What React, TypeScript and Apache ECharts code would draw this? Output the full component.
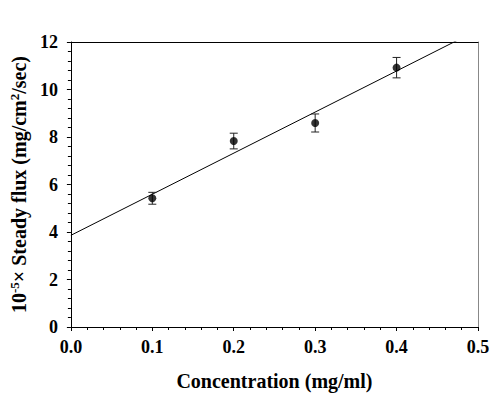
import React, { useEffect, useRef } from "react";
import * as echarts from "echarts";

const concentrations = [0.1, 0.2, 0.3, 0.4];
const fluxMeans = [5.42, 7.83, 8.59, 10.92];
const fluxErrors = [0.25, 0.33, 0.38, 0.43];
const fitLineX = [0, 0.5];
const fitLineY = [3.86, 12.51];
const xTicks = ["0.0", "0.1", "0.2", "0.3", "0.4", "0.5"];
const yTicks = ["0", "2", "4", "6", "8", "10", "12"];

const FONT = "'Liberation Serif', 'Times New Roman', serif";

export default function App() {
  const ref = useRef<HTMLDivElement>(null);
  useEffect(() => {
    if (!ref.current) return;
    const chart = echarts.init(ref.current, null, { renderer: "svg" });
    const labelStyle = { color: "#000", fontFamily: FONT, fontWeight: "bold" as const, fontSize: 18 };
    const points = concentrations.map((c, i) => [c, fluxMeans[i]]);
    const errData = concentrations.map((c, i) => [c, fluxMeans[i] - fluxErrors[i], fluxMeans[i] + fluxErrors[i]]);
    const lineData = fitLineX.map((x, i) => [x, fitLineY[i]]);
    chart.setOption({
      animation: false,
      grid: { left: 69, right: 22, top: 42, bottom: 68, containLabel: false },
      xAxis: [
        {
          type: "value",
          min: 0,
          max: 0.5,
          interval: 0.1,
          position: "bottom",
          name: "Concentration (mg/ml)",
          nameLocation: "middle",
          nameGap: 44,
          nameTextStyle: { ...labelStyle, fontSize: 20 },
          axisLine: { show: true, onZero: false, lineStyle: { color: "#000", width: 1 } },
          axisTick: { show: true, length: 4, lineStyle: { color: "#000" } },
          minorTick: { show: true, splitNumber: 5, length: 3, lineStyle: { color: "#000" } },
          splitLine: { show: false },
          axisLabel: {
            ...labelStyle,
            margin: 11,
            formatter: (v: number) => xTicks[Math.round(v * 10)] ?? "",
          },
        },
        {
          type: "value",
          min: 0,
          max: 0.5,
          position: "top",
          axisLine: { show: true, onZero: false, lineStyle: { color: "#000", width: 1.2 } },
          axisTick: { show: false },
          axisLabel: { show: false },
          splitLine: { show: false },
        },
      ],
      yAxis: [
        {
          type: "value",
          min: 0,
          max: 12,
          interval: 2,
          position: "left",
          name: "{a|10}{s|-5}{a|× Steady flux (mg/cm}{s|2}{a|/sec)}",
          nameLocation: "middle",
          nameGap: 39,
          nameRotate: 90,
          nameTextStyle: {
            ...labelStyle,
            rich: {
              a: { fontFamily: FONT, fontWeight: "bold", fontSize: 20, color: "#000" },
              s: { fontFamily: FONT, fontWeight: "bold", fontSize: 13, color: "#000", verticalAlign: "top", padding: [0, 0, 9, 0] },
            },
          },
          axisLine: { show: true, onZero: false, lineStyle: { color: "#000", width: 1 } },
          axisTick: { show: true, length: 4, lineStyle: { color: "#000" } },
          minorTick: { show: true, splitNumber: 5, length: 3, lineStyle: { color: "#000" } },
          splitLine: { show: false },
          axisLabel: {
            ...labelStyle,
            margin: 13,
            formatter: (v: number) => yTicks[Math.round(v / 2)] ?? "",
          },
        },
        {
          type: "value",
          min: 0,
          max: 12,
          position: "right",
          axisLine: { show: true, onZero: false, lineStyle: { color: "#888", width: 1 } },
          axisTick: { show: false },
          axisLabel: { show: false },
          splitLine: { show: false },
        },
      ],
      series: [
        {
          type: "line",
          data: lineData,
          symbol: "none",
          clip: true,
          lineStyle: { color: "#000", width: 1 },
          xAxisIndex: 0,
          yAxisIndex: 0,
          z: 2,
        },
        {
          type: "custom",
          xAxisIndex: 0,
          yAxisIndex: 0,
          data: errData,
          z: 3,
          renderItem: (params: any, api: any) => {
            const x = api.value(0);
            const lo = api.coord([x, api.value(1)]);
            const hi = api.coord([x, api.value(2)]);
            const half = 4;
            const style = { stroke: "#222", lineWidth: 1 };
            return {
              type: "group",
              children: [
                { type: "line", shape: { x1: lo[0], y1: lo[1], x2: hi[0], y2: hi[1] }, style },
                { type: "line", shape: { x1: lo[0] - half, y1: lo[1], x2: lo[0] + half, y2: lo[1] }, style },
                { type: "line", shape: { x1: hi[0] - half, y1: hi[1], x2: hi[0] + half, y2: hi[1] }, style },
              ],
            };
          },
        },
        {
          type: "scatter",
          data: points,
          symbol: "circle",
          symbolSize: 8,
          itemStyle: { color: "#000" },
          xAxisIndex: 0,
          yAxisIndex: 0,
          z: 4,
        },
      ],
    });
    return () => chart.dispose();
  }, []);
  return (
    <div
      ref={ref}
      style={{ position: "fixed", left: 0, top: 0, width: 500, height: 396, background: "#fff" }}
    />
  );
}
